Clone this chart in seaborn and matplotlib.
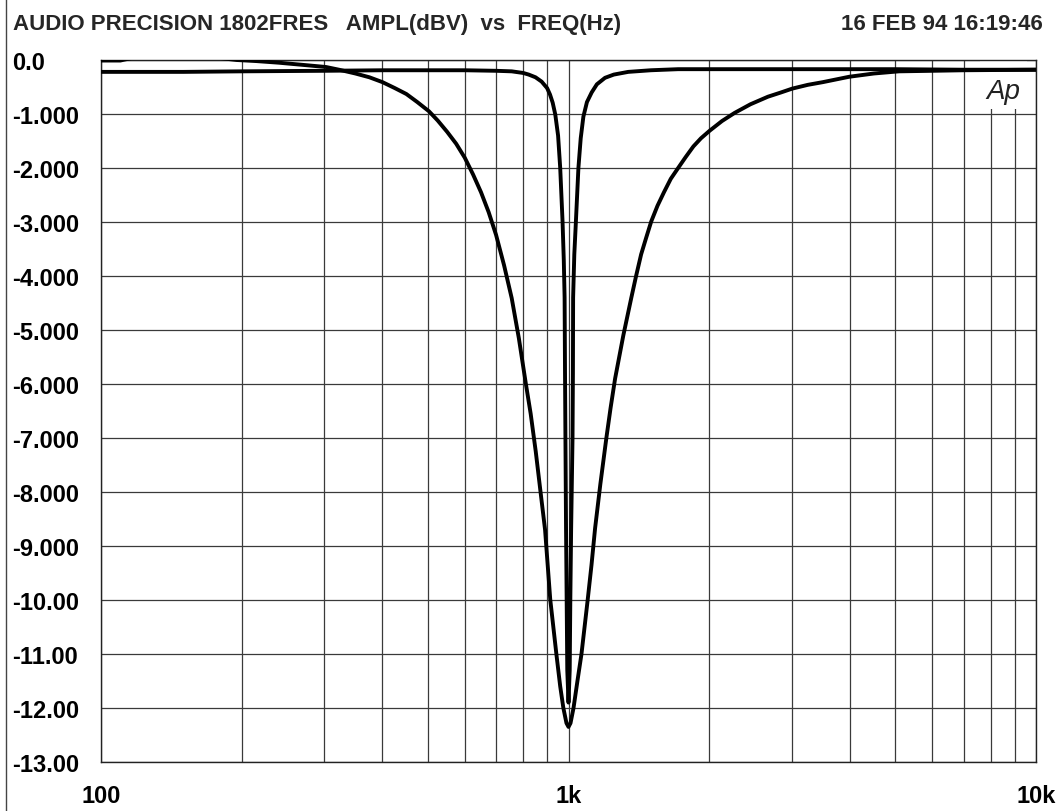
import pandas as pd
import seaborn as sns
import matplotlib.pyplot as plt
from matplotlib.ticker import FixedLocator, NullFormatter
from matplotlib.lines import Line2D
from matplotlib.patches import Rectangle

sns.set_style('white')
plt.rcParams['font.family'] = ['Liberation Sans', 'DejaVu Sans']
plt.rcParams['font.weight'] = 'bold'

# narrow notch trace
freq_a = [100, 150, 200, 300, 400, 500, 600, 700, 756, 800, 822, 850, 876, 900, 913,
          925, 937, 950, 960, 971, 977, 981, 983, 985, 988, 991, 994, 1000, 1006, 1009,
          1013, 1020, 1022, 1023, 1029, 1037, 1050, 1062, 1076, 1095, 1121, 1150, 1197,
          1250, 1342, 1500, 1716, 2000, 3000, 4000, 5000, 7000, 10000]
ampl_a = [-0.22, -0.22, -0.21, -0.20, -0.19, -0.19, -0.19, -0.20, -0.21, -0.24, -0.27,
          -0.32, -0.40, -0.52, -0.64, -0.79, -1.01, -1.40, -2.00, -2.98, -3.70, -4.40,
          -5.80, -7.00, -8.70, -10.0, -11.3, -11.9, -11.3, -10.0, -8.70, -7.00, -5.80,
          -4.40, -3.60, -3.00, -2.00, -1.45, -1.05, -0.78, -0.60, -0.45, -0.33, -0.27,
          -0.22, -0.19, -0.17, -0.17, -0.17, -0.17, -0.17, -0.18, -0.18]

# wide notch trace
freq_b = [100, 110, 118, 175, 195, 215, 240, 270, 303, 323, 350, 375, 400, 425, 450,
          475, 503, 525, 550, 575, 600, 625, 650, 675, 700, 728, 756, 783, 810, 830,
          851, 870, 891, 914, 942, 960, 975, 990, 1000, 1010, 1025, 1045, 1066, 1099,
          1120, 1140, 1170, 1205, 1230, 1258, 1310, 1362, 1395, 1430, 1465, 1503, 1550,
          1600, 1655, 1716, 1780, 1850, 1920, 2004, 2130, 2266, 2450, 2670, 2850, 3010,
          3250, 3500, 3987, 4500, 5095, 6000, 7000, 10000]
ampl_b = [-0.01, -0.01, 0.05, 0.05, 0.00, -0.02, -0.05, -0.09, -0.13, -0.18, -0.25,
          -0.32, -0.41, -0.52, -0.63, -0.78, -0.95, -1.12, -1.33, -1.55, -1.81, -2.12,
          -2.45, -2.82, -3.24, -3.80, -4.41, -5.15, -5.98, -6.55, -7.25, -7.95, -8.70,
          -9.99, -11.0, -11.6, -12.0, -12.28, -12.35, -12.28, -12.0, -11.5, -11.0, -10.0,
          -9.35, -8.67, -7.85, -7.00, -6.45, -5.90, -5.10, -4.41, -4.00, -3.60, -3.30,
          -2.99, -2.70, -2.45, -2.20, -2.00, -1.80, -1.60, -1.45, -1.31, -1.13, -0.98,
          -0.82, -0.68, -0.60, -0.53, -0.46, -0.41, -0.31, -0.25, -0.21, -0.20, -0.19,
          -0.18]

y_ticks = [0, -1, -2, -3, -4, -5, -6, -7, -8, -9, -10, -11, -12, -13]
y_labels = ['0.0', '-1.000', '-2.000', '-3.000', '-4.000', '-5.000', '-6.000', '-7.000',
            '-8.000', '-9.000', '-10.00', '-11.00', '-12.00', '-13.00']
x_ticks = [100, 1000, 10000]
x_labels = ['100', '1k', '10k']
x_minor = [200, 300, 400, 500, 600, 700, 800, 900,
           2000, 3000, 4000, 5000, 6000, 7000, 8000, 9000]

df = pd.concat([
    pd.DataFrame({'freq': freq_a, 'ampl': ampl_a, 'trace': 'narrow'}),
    pd.DataFrame({'freq': freq_b, 'ampl': ampl_b, 'trace': 'wide'}),
])

W, H = 1057, 812
fig = plt.figure(figsize=(W / 100, H / 100), dpi=100)
ax = fig.add_axes([101 / W, 1 - 763 / H, 935 / W, 702 / H])

sns.lineplot(data=df, x='freq', y='ampl', hue='trace', palette=['black', 'black'],
             estimator=None, legend=False, linewidth=2.8, ax=ax, zorder=3)

ax.set_xscale('log')
ax.set_xlim(100, 10000)
ax.set_ylim(-13, 0)
ax.set_xlabel('')
ax.set_ylabel('')

ax.xaxis.set_major_locator(FixedLocator(x_ticks))
ax.xaxis.set_minor_locator(FixedLocator(x_minor))
ax.xaxis.set_minor_formatter(NullFormatter())
ax.set_xticks(x_ticks, labels=x_labels)
ax.set_yticks(y_ticks, labels=y_labels)

ax.set_axisbelow(True)
ax.grid(which='both', axis='x', color='#3a3a3a', linewidth=0.9)
ax.grid(which='major', axis='y', color='#3a3a3a', linewidth=0.9)
for s in ax.spines.values():
    s.set_visible(True)
    s.set_color('#222222')
    s.set_linewidth(1.0)

ax.tick_params(axis='both', which='both', length=0, labelsize=17, colors='black')
ax.tick_params(axis='x', pad=16)
ax.tick_params(axis='y', pad=64)
for lab in ax.get_yticklabels():
    lab.set_ha('left')
    lab.set_fontweight('bold')
for lab in ax.get_xticklabels():
    lab.set_fontweight('bold')

# "Ap" logo box in the upper right corner
ax.add_patch(Rectangle((0.940, 0.930), 0.05, 0.07, transform=ax.transAxes,
                       facecolor='white', edgecolor='none', zorder=1))
ax.text(0.965, 0.956, 'Ap', transform=ax.transAxes, fontsize=20, fontstyle='italic',
        fontweight='normal', color='#222222', ha='center', va='center', zorder=1.5)

fig.text(13 / W, 1 - 30 / H, 'AUDIO PRECISION 1802FRES   AMPL(dBV)  vs  FREQ(Hz)',
         fontsize=16, fontweight='bold', ha='left', va='baseline')
fig.text(1043 / W, 1 - 30 / H, '16 FEB 94 16:19:46',
         fontsize=16, fontweight='bold', ha='right', va='baseline')

# page edge from the scan
fig.add_artist(Line2D([6 / W, 6 / W], [0, 1], transform=fig.transFigure,
                      color='#444444', linewidth=1))

fig.savefig('out.png', dpi=100)
